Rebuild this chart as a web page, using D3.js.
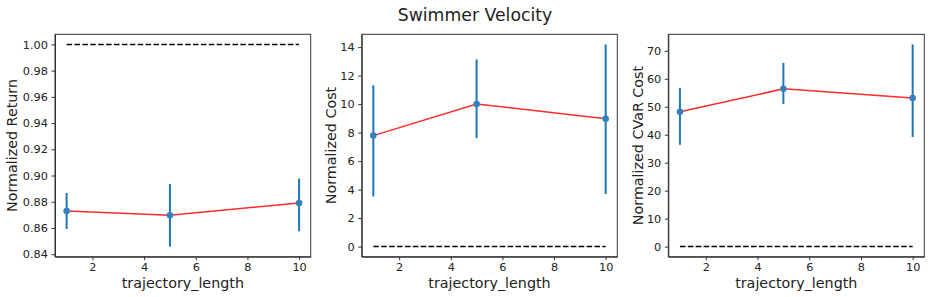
<html>
<head>
<meta charset="UTF-8">
<title>Swimmer Velocity</title>
<style>
body { margin: 0; background: white; }
svg text { font-family: "DejaVu Sans", sans-serif; fill: #222; }
.domain { stroke: #333; }
.tick line { stroke: #333; }
</style>
</head>
<body>
<div id="chart"></div>
<script src="https://cdn.jsdelivr.net/npm/d3@7"></script>
<script>
// data
var trajLength = [1, 5, 10];

var returnMean = [0.8730, 0.8697, 0.8791];
var returnLow  = [0.8592, 0.8458, 0.8575];
var returnHigh = [0.8867, 0.8936, 0.8977];

var costMean = [7.79, 10.01, 8.97];
var costLow  = [3.52, 7.61, 3.69];
var costHigh = [11.32, 13.13, 14.19];

var cvarMean = [48.2, 56.4, 53.1];
var cvarLow  = [36.4, 51.0, 39.2];
var cvarHigh = [56.7, 65.7, 72.3];

var returnTicks = [0.84, 0.86, 0.88, 0.90, 0.92, 0.94, 0.96, 0.98, 1.00];
var costTicks = [0, 2, 4, 6, 8, 10, 12, 14];
var cvarTicks = [0, 10, 20, 30, 40, 50, 60, 70];
var xTicks = [2, 4, 6, 8, 10];

var panels = [
  {label: "Normalized Return", mean: returnMean, low: returnLow, high: returnHigh, ref: 1.0, ticks: returnTicks, fmt: d3.format(".2f"), left: 55, right: 310.7, labelX: 17},
  {label: "Normalized Cost", mean: costMean, low: costLow, high: costHigh, ref: 0, ticks: costTicks, fmt: d3.format("d"), left: 361.7, right: 617.3, labelX: 336},
  {label: "Normalized CVaR Cost", mean: cvarMean, low: cvarLow, high: cvarHigh, ref: 0, ticks: cvarTicks, fmt: d3.format("d"), left: 668.3, right: 924.3, labelX: 643}
];

var width = 930, height = 297;
var plotTop = 34.3, plotBottom = 256.7;

var svg = d3.select("#chart").append("svg")
    .attr("width", width)
    .attr("height", height);

svg.append("text")
    .attr("x", 475)
    .attr("y", 20.5)
    .attr("text-anchor", "middle")
    .style("font-size", "17.3px")
    .text("Swimmer Velocity");

panels.forEach(function(p){
  // matplotlib style 5% margins
  var lo = d3.min(p.low.concat([p.ref]));
  var hi = d3.max(p.high.concat([p.ref]));
  var pad = (hi - lo) * 0.05;

  var x = d3.scaleLinear().domain([0.55, 10.45]).range([p.left, p.right]);
  var y = d3.scaleLinear().domain([lo - pad, hi + pad]).range([plotBottom, plotTop]);

  var g = svg.append("g");

  // reference line
  g.append("line")
      .attr("x1", x(1)).attr("x2", x(10))
      .attr("y1", y(p.ref)).attr("y2", y(p.ref))
      .attr("stroke", "black")
      .attr("stroke-width", 1.5)
      .attr("stroke-dasharray", "5.5,2.4");

  var line = d3.line()
      .x(function(d, i){ return x(trajLength[i]); })
      .y(function(d){ return y(d); });

  g.append("path")
      .datum(p.mean)
      .attr("d", line)
      .attr("fill", "none")
      .attr("stroke", "#ff2a2a")
      .attr("stroke-width", 1.5);

  g.selectAll(".err").data(p.mean).enter().append("line")
      .attr("class", "err")
      .attr("x1", function(d, i){ return x(trajLength[i]); })
      .attr("x2", function(d, i){ return x(trajLength[i]); })
      .attr("y1", function(d, i){ return y(p.low[i]); })
      .attr("y2", function(d, i){ return y(p.high[i]); })
      .attr("stroke", "#1f77b4")
      .attr("stroke-width", 2);

  g.selectAll(".dot").data(p.mean).enter().append("circle")
      .attr("class", "dot")
      .attr("cx", function(d, i){ return x(trajLength[i]); })
      .attr("cy", function(d){ return y(d); })
      .attr("r", 3.3)
      .attr("fill", "#3581bd");

  // axes
  var xAxis = g.append("g")
      .attr("transform", "translate(0," + plotBottom + ")")
      .call(d3.axisBottom(x).tickValues(xTicks).tickSize(3.5).tickPadding(2.5).tickSizeOuter(0));
  xAxis.selectAll("text").style("font-size", "11.3px");

  var yAxis = g.append("g")
      .attr("transform", "translate(" + p.left + ",0)")
      .call(d3.axisLeft(y).tickValues(p.ticks).tickFormat(p.fmt).tickSize(3.5).tickPadding(3.5).tickSizeOuter(0));
  yAxis.selectAll("text").style("font-size", "11.3px");

  // box
  g.append("rect")
      .attr("x", p.left).attr("y", plotTop)
      .attr("width", p.right - p.left).attr("height", plotBottom - plotTop)
      .attr("fill", "none")
      .attr("stroke", "#333")
      .attr("stroke-width", 1);

  g.append("text")
      .attr("x", (p.left + p.right) / 2)
      .attr("y", 288.3)
      .attr("text-anchor", "middle")
      .style("font-size", "14.3px")
      .text("trajectory_length");

  g.append("text")
      .attr("transform", "translate(" + p.labelX + "," + ((plotTop + plotBottom) / 2) + ") rotate(-90)")
      .attr("text-anchor", "middle")
      .style("font-size", "14.3px")
      .text(p.label);
});
</script>
</body>
</html>
